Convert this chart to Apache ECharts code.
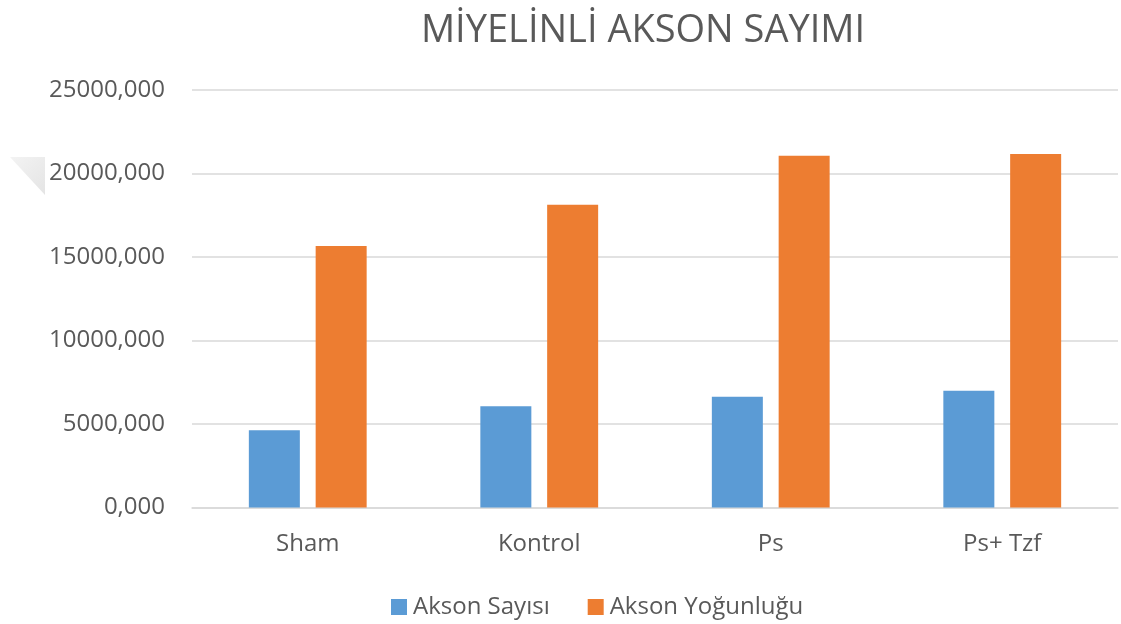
<!DOCTYPE html>
<html>
<head>
<meta charset="utf-8">
<style>
  html, body { margin: 0; padding: 0; background: #ffffff; }
  #chart { width: 1121px; height: 624px; }
</style>
<script src="https://cdn.jsdelivr.net/npm/echarts@6/dist/echarts.min.js"></script>
</head>
<body>
<div id="chart"></div>
<script>
// Myelinated axon counts per group
const categories = ['Sham', 'Kontrol', 'Ps', 'Ps+ Tzf'];
const aksonSayisi = [4620, 6060, 6630, 6990];
const aksonYogunlugu = [15660, 18130, 21070, 21170];
const seriesNames = ['Akson Sayısı', 'Akson Yoğunluğu'];
const titleText = 'MİYELİNLİ AKSON SAYIMI';

const FONT = '"Open Sans", "Liberation Sans", sans-serif';
const TEXT = '#595959';

const chart = echarts.init(document.getElementById('chart'), null, { renderer: 'canvas' });

chart.setOption({
  animation: false,
  backgroundColor: '#ffffff',
  title: {
    text: titleText,
    top: 7,
    left: 638,
    textAlign: 'center',
    textStyle: { fontFamily: FONT, fontSize: 38, fontWeight: 'normal', color: TEXT }
  },
  legend: {
    data: seriesNames,
    left: 386,
    top: 590,
    itemWidth: 16,
    itemHeight: 16,
    itemGap: 38,
    icon: 'rect',
    textStyle: { fontFamily: FONT, fontSize: 24, color: TEXT, padding: [0, 0, 0, 1] }
  },
  grid: { left: 192, right: 3, top: 90, bottom: 116.5 },
  xAxis: {
    type: 'category',
    data: categories,
    axisLine: { show: true, lineStyle: { color: '#d9d9d9', width: 1.5 } },
    axisTick: { show: false },
    axisLabel: { fontFamily: FONT, fontSize: 24, color: TEXT, margin: 25 }
  },
  yAxis: {
    type: 'value',
    min: 0,
    max: 25000,
    interval: 5000,
    axisLine: { show: false },
    axisTick: { show: false },
    splitLine: { lineStyle: { color: '#d9d9d9', width: 1.5 } },
    axisLabel: {
      fontFamily: FONT, fontSize: 24, color: TEXT, margin: 27,
      formatter: v => v.toFixed(3).replace('.', ',')
    }
  },
  series: [
    {
      name: seriesNames[0],
      type: 'bar',
      data: aksonSayisi,
      barWidth: 51,
      barGap: '31%',
      itemStyle: { color: '#5b9bd5' }
    },
    {
      name: seriesNames[1],
      type: 'bar',
      data: aksonYogunlugu,
      barWidth: 51,
      barGap: '31%',
      itemStyle: { color: '#ed7d31' }
    }
  ],
  graphic: [
    {
      type: 'polygon',
      shape: { points: [[10, 157], [45, 157], [45, 195]] },
      style: {
        fill: {
          type: 'linear', x: 0, y: 0, x2: 1, y2: 1,
          colorStops: [{ offset: 0, color: '#f3f3f3' }, { offset: 1, color: '#e4e4e4' }]
        }
      },
      z: -1
    }
  ]
});
</script>
</body>
</html>
